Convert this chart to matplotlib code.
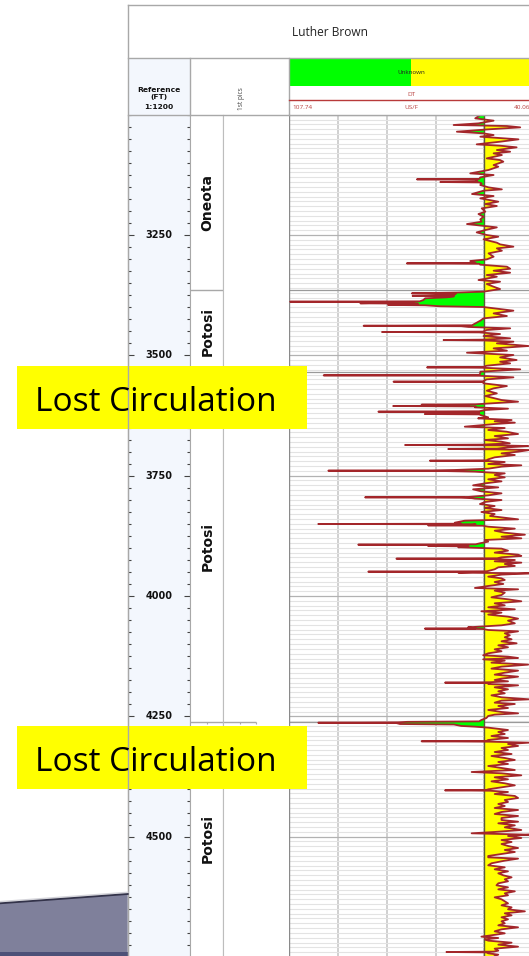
import numpy as np
import matplotlib
matplotlib.use("Agg")
import matplotlib.pyplot as plt
from matplotlib.ticker import MultipleLocator, FixedLocator
from matplotlib.patches import Rectangle, Polygon
from matplotlib.transforms import blended_transform_factory

# ---------------- data ----------------
well_name = "Luther Brown"
curve_name = "DT"
curve_unit = "US/F"
fill_label = "Unknown"
dt_left, dt_right = 107.74, 40.06
dt_cutoff = 53.6
depth_top, depth_bottom = 3000, 4748
depth_labels = [3250, 3500, 3750, 4000, 4250, 4500]
fm_names = ["Oneota", "Potosi", "Potosi", "Potosi"]
fm_tops = [3000, 3365, 3535, 4261]
annot_text = ["Lost Circulation", "Lost Circulation"]

# DT log readings (depth ft, DT us/ft), by interval
log_3000_3590 = [
    (3000.7, 54.7), (3007.6, 56.1), (3012.4, 51.0), (3018.0, 55.2), (3021.4, 62.1),
    (3023.5, 47.3), (3026.3, 43.6), (3030.4, 52.4), (3035.3, 61.2), (3038.8, 53.8),
    (3042.2, 51.0), (3045.7, 54.7), (3051.2, 44.1), (3056.1, 49.2), (3061.6, 55.7),
    (3064.4, 49.2), (3067.8, 44.6), (3073.4, 50.1), (3076.9, 46.4), (3080.3, 51.0),
    (3083.8, 48.7), (3090.7, 52.9), (3094.2, 49.2), (3097.6, 48.3), (3104.6, 51.0),
    (3108.0, 49.7), (3114.9, 52.4), (3121.9, 57.5), (3125.3, 51.0), (3130.2, 54.7),
    (3133.4, 55.0), (3134.3, 72.3), (3135.2, 55.5), (3137.1, 55.7), (3139.1, 55.5),
    (3139.9, 65.8), (3140.7, 55.0), (3142.7, 54.3), (3146.1, 54.7), (3151.0, 52.4),
    (3155.1, 48.7), (3157.9, 53.8), (3164.8, 57.0), (3169.0, 51.0), (3173.8, 54.7),
    (3180.7, 49.7), (3185.6, 53.3), (3189.7, 50.1), (3194.6, 54.3), (3201.5, 53.3),
    (3206.4, 55.2), (3211.9, 53.8), (3217.5, 54.7), (3222.3, 54.3), (3227.2, 58.4),
    (3230.6, 54.3), (3234.1, 50.1), (3239.6, 53.3), (3244.5, 55.7), (3250.0, 52.9),
    (3253.5, 49.7), (3259.0, 53.8), (3265.9, 50.1), (3269.4, 49.2), (3274.2, 45.5),
    (3277.7, 50.1), (3282.6, 48.7), (3288.1, 52.4), (3295.0, 51.0), (3300.6, 52.9),
    (3304.0, 57.5), (3308.0, 56.0), (3308.9, 75.1), (3309.8, 55.0), (3311.6, 54.7),
    (3315.8, 47.3), (3320.0, 46.4), (3324.1, 51.0), (3328.3, 46.4), (3333.1, 52.9),
    (3336.6, 50.1), (3343.5, 55.2), (3347.0, 49.2), (3351.8, 52.9), (3357.4, 51.0),
    (3362.2, 49.2), (3367.7, 53.8), (3369.5, 61.0), (3371.2, 73.7), (3372.0, 61.5),
    (3374.5, 62.0), (3376.5, 73.5), (3377.3, 62.0), (3379.5, 64.0), (3381.5, 70.0),
    (3385.0, 70.5), (3387.8, 71.5), (3388.5, 107.5), (3389.2, 73.0), (3391.9, 88.0),
    (3392.6, 72.0), (3395.3, 80.3), (3396.0, 70.0), (3398.0, 66.0), (3399.6, 53.8),
    (3404.5, 48.3), (3407.2, 45.5), (3412.8, 51.0), (3418.3, 47.3), (3423.1, 53.8),
    (3428.0, 54.7), (3432.2, 55.7), (3437.5, 57.0), (3438.5, 87.1), (3439.5, 60.0),
    (3441.0, 58.0), (3443.9, 46.4), (3447.4, 52.9), (3450.7, 54.0), (3451.5, 82.0),
    (3452.3, 55.0), (3455.7, 49.2), (3459.9, 53.8), (3464.7, 46.4), (3467.4, 54.0),
    (3468.2, 64.9), (3469.0, 54.0), (3471.6, 45.5), (3475.1, 50.1), (3480.6, 41.3),
    (3485.5, 51.0), (3490.3, 47.3), (3494.5, 58.4), (3499.3, 45.5), (3504.2, 49.2),
    (3509.7, 44.6), (3513.2, 49.2), (3516.7, 46.4), (3521.5, 52.9), (3524.2, 54.0),
    (3525.0, 69.5), (3525.8, 54.0), (3529.1, 43.6), (3534.0, 54.7), (3537.4, 54.7),
    (3540.8, 55.0), (3541.6, 98.2), (3542.4, 55.0), (3545.7, 45.5), (3549.9, 52.9),
    (3553.9, 54.0), (3554.7, 78.8), (3555.5, 54.0), (3558.2, 53.8), (3563.8, 47.3),
    (3568.6, 51.0), (3573.4, 52.9), (3579.0, 50.1), (3584.5, 53.3),
]
log_3590_3883 = [
    (3592.8, 48.8), (3596.3, 44.2), (3599.7, 51.6), (3601.7, 56.0), (3602.5, 71.0),
    (3603.4, 58.0), (3604.5, 58.0), (3605.3, 78.9), (3606.1, 56.0), (3608.0, 56.2),
    (3610.8, 47.0), (3613.6, 53.4), (3616.2, 55.0), (3617.0, 83.0), (3617.8, 55.0),
    (3619.1, 56.2), (3621.1, 55.0), (3621.9, 70.1), (3622.7, 55.0), (3624.7, 54.4),
    (3628.8, 52.5), (3630.9, 55.3), (3634.4, 46.0), (3637.1, 50.7), (3639.9, 45.1),
    (3642.7, 50.7), (3648.2, 59.0), (3651.0, 47.9), (3655.1, 52.5), (3658.6, 47.4),
    (3663.4, 44.2), (3667.6, 50.7), (3672.5, 47.0), (3675.9, 53.4), (3679.4, 48.8),
    (3682.8, 46.5), (3685.5, 54.0), (3686.3, 75.6), (3687.0, 50.0), (3688.4, 41.4),
    (3691.1, 47.0), (3693.8, 50.0), (3694.6, 63.6), (3695.4, 50.0), (3696.7, 41.1),
    (3700.2, 44.2), (3703.6, 48.8), (3707.1, 45.1), (3711.9, 50.7), (3716.1, 52.5),
    (3718.1, 53.0), (3718.9, 68.7), (3719.7, 52.0), (3721.6, 47.9), (3725.8, 52.5),
    (3728.5, 43.3), (3731.3, 48.8), (3735.5, 52.5), (3738.2, 61.8), (3739.0, 68.0),
    (3739.6, 96.9), (3740.2, 66.0), (3741.7, 56.2), (3745.2, 47.9), (3748.6, 50.7),
    (3753.5, 47.9), (3757.6, 52.5), (3761.8, 48.8), (3766.0, 53.4), (3770.1, 56.7),
    (3774.3, 49.7), (3778.4, 56.7), (3782.6, 54.4), (3786.7, 48.8), (3790.9, 52.5),
    (3794.2, 58.0), (3795.0, 86.7), (3795.8, 60.0), (3796.8, 57.0), (3797.8, 56.2),
    (3800.6, 48.8), (3804.7, 53.4), (3808.9, 54.8), (3813.0, 50.7), (3817.2, 53.4),
    (3821.4, 48.8), (3825.5, 54.4), (3829.7, 50.7), (3833.8, 52.0), (3836.6, 48.8),
    (3840.7, 44.2), (3843.5, 59.0), (3847.7, 61.8), (3849.8, 60.0), (3850.4, 99.7),
    (3851.0, 56.0), (3852.5, 57.0), (3853.2, 69.2), (3854.0, 54.0), (3856.0, 52.5),
    (3860.1, 45.1), (3864.3, 50.7), (3868.5, 47.9), (3872.6, 42.3), (3876.8, 48.8),
    (3880.2, 43.3),
]
log_3883_4174 = [
    (3883.6, 53.4), (3887.1, 52.5), (3890.5, 54.8), (3892.6, 56.0), (3893.3, 88.6),
    (3894.0, 62.0), (3895.3, 58.0), (3896.1, 69.2), (3896.9, 58.0), (3898.8, 60.8),
    (3901.6, 48.8), (3905.8, 47.0), (3909.9, 50.7), (3914.1, 44.2), (3916.8, 43.3),
    (3919.6, 48.8), (3921.6, 50.0), (3922.4, 78.0), (3923.2, 50.0), (3925.2, 45.1),
    (3927.9, 50.7), (3930.7, 43.3), (3933.5, 47.9), (3937.6, 45.1), (3940.4, 49.7),
    (3944.5, 50.7), (3948.0, 52.5), (3948.7, 53.0), (3949.4, 85.8), (3950.1, 56.0),
    (3951.5, 60.8), (3952.9, 41.1), (3955.6, 48.8), (3959.8, 52.5), (3963.3, 48.8),
    (3966.7, 47.9), (3970.9, 50.7), (3975.0, 48.3), (3979.2, 52.5), (3983.3, 56.2),
    (3986.1, 44.2), (3988.9, 50.7), (3993.0, 47.9), (3997.9, 48.8), (4002.7, 51.6),
    (4006.9, 47.0), (4011.0, 43.3), (4015.2, 50.7), (4019.4, 47.9), (4023.5, 52.5),
    (4027.7, 45.1), (4031.8, 54.4), (4034.6, 48.8), (4038.7, 52.5), (4042.9, 47.0),
    (4047.1, 44.2), (4051.2, 47.0), (4056.8, 45.1), (4060.9, 48.8), (4065.1, 58.1),
    (4067.0, 56.0), (4067.8, 70.1), (4068.6, 54.0), (4070.6, 52.5), (4073.4, 44.2),
    (4077.5, 47.9), (4081.7, 46.5), (4085.8, 47.9), (4090.0, 46.0), (4094.2, 48.8),
    (4098.3, 44.6), (4102.5, 49.7), (4106.6, 47.0), (4110.8, 50.7), (4114.9, 48.8),
    (4119.1, 52.5), (4123.2, 53.9), (4126.0, 47.0), (4128.8, 44.2), (4131.6, 53.9),
    (4134.3, 47.9), (4138.5, 51.6), (4142.6, 41.4), (4146.8, 48.8), (4150.9, 51.6),
    (4155.1, 44.2), (4159.3, 47.9), (4163.4, 50.7), (4167.6, 44.2), (4171.7, 48.8),
]
log_4174_4465 = [
    (4174.5, 50.7), (4177.3, 47.0), (4179.2, 52.0), (4180.0, 64.5), (4180.8, 52.0),
    (4182.8, 52.5), (4185.6, 44.2), (4189.7, 50.7), (4193.9, 47.0), (4198.0, 49.7),
    (4202.2, 47.9), (4206.4, 51.6), (4210.5, 48.8), (4214.7, 41.1), (4217.4, 48.8),
    (4221.6, 50.7), (4224.4, 45.1), (4228.5, 49.7), (4232.7, 47.0), (4236.8, 52.5),
    (4241.0, 48.8), (4243.8, 44.2), (4246.5, 50.7), (4249.3, 52.5), (4253.5, 53.0),
    (4257.6, 54.4), (4260.5, 55.0), (4261.5, 75.0), (4262.5, 77.5), (4263.3, 99.7),
    (4264.0, 78.0), (4266.0, 77.0), (4267.0, 62.0), (4270.0, 60.0), (4271.5, 56.2),
    (4273.5, 52.5), (4278.4, 47.0), (4282.5, 49.7), (4286.7, 47.9), (4290.9, 51.6),
    (4295.0, 47.0), (4299.2, 52.5), (4301.1, 53.0), (4301.9, 71.0), (4302.7, 52.0),
    (4304.7, 41.1), (4307.5, 47.0), (4311.6, 44.2), (4315.8, 48.8), (4319.9, 47.0),
    (4324.1, 50.7), (4328.3, 46.0), (4332.4, 51.6), (4336.6, 47.9), (4340.7, 45.1),
    (4344.9, 49.7), (4349.0, 47.0), (4353.2, 52.5), (4357.3, 48.8), (4361.5, 45.1),
    (4365.7, 57.1), (4368.4, 48.8), (4372.6, 43.3), (4376.7, 50.7), (4380.9, 47.0),
    (4385.1, 51.6), (4389.2, 47.9), (4393.4, 45.1), (4397.5, 48.8), (4401.7, 52.5),
    (4403.0, 53.0), (4403.8, 64.5), (4404.6, 52.0), (4407.2, 47.0), (4411.4, 50.7),
    (4415.5, 45.1), (4419.7, 44.2), (4423.8, 47.9), (4428.0, 47.0), (4432.1, 49.7),
    (4436.3, 47.9), (4440.5, 50.7), (4444.6, 44.2), (4448.8, 48.8), (4452.9, 50.7),
    (4457.1, 44.2), (4461.3, 48.8),
]
log_4465_4748 = [
    (4465.4, 48.8), (4468.9, 44.2), (4472.3, 49.7), (4476.5, 45.1), (4480.6, 47.9),
    (4486.2, 43.3), (4490.3, 50.7), (4493.1, 57.1), (4495.9, 41.1), (4498.6, 47.0),
    (4502.8, 43.3), (4507.0, 48.8), (4511.1, 46.0), (4515.3, 48.8), (4519.4, 47.0),
    (4523.6, 44.2), (4527.7, 47.9), (4531.9, 45.1), (4536.0, 48.8), (4540.2, 52.5),
    (4543.0, 52.5), (4545.7, 44.2), (4549.9, 47.9), (4555.4, 51.6), (4559.6, 52.5),
    (4563.7, 47.9), (4567.9, 50.7), (4572.1, 47.0), (4576.2, 49.7), (4580.4, 48.3),
    (4584.5, 46.0), (4588.7, 47.9), (4592.8, 47.0), (4597.0, 49.7), (4601.1, 50.2),
    (4605.3, 47.0), (4609.5, 49.7), (4613.6, 45.1), (4617.8, 47.9), (4621.9, 47.0),
    (4626.1, 50.7), (4630.2, 48.8), (4634.4, 47.9), (4638.6, 47.0), (4642.7, 48.8),
    (4646.9, 46.0), (4651.0, 47.0), (4655.2, 42.3), (4659.3, 47.9), (4663.5, 46.0),
    (4667.6, 48.8), (4671.8, 47.0), (4676.0, 48.8), (4680.1, 47.9), (4684.3, 49.7),
    (4688.4, 44.2), (4692.6, 48.8), (4696.7, 50.7), (4700.9, 47.9), (4705.0, 51.6),
    (4707.8, 54.4), (4710.6, 49.7), (4713.4, 53.4), (4716.1, 52.5), (4720.3, 46.0),
    (4724.4, 49.7), (4728.6, 44.2), (4732.7, 50.7), (4736.9, 49.7), (4738.9, 51.0),
    (4739.7, 64.1), (4740.5, 53.0), (4742.4, 52.5), (4745.2, 49.7), (4748.0, 50.7),
]

# ---------------- layout (pixels) ----------------
W, H = 529, 956
X_REF0, X_REF1, X_FM1, X_PK1, X_TR1 = 127.7, 190.3, 223.3, 289.3, 533.0
Y_T0, Y_T1, Y_H1 = 5.0, 58.3, 114.7
GRAY = '#a8a8a8'
REF_BG = '#f3f7fd'
CURVE = '#a3262a'
RED_TXT = '#b8413f'

fig = plt.figure(figsize=(W / 100, H / 100), dpi=100)
fig.patch.set_facecolor('white')


def px_axes(x0, x1, y0, y1, **kw):
    return fig.add_axes([x0 / W, 1 - y1 / H, (x1 - x0) / W, (y1 - y0) / H], **kw)


log = log_3000_3590 + log_3590_3883 + log_3883_4174 + log_4174_4465 + log_4465_4748
depth = np.array([p[0] for p in log])
dt = np.array([p[1] for p in log])

# ---- curve track ----
ax = px_axes(X_PK1, X_TR1, Y_H1, H)
ax.set_xlim(dt_left, dt_right)
ax.set_ylim(depth_bottom, depth_top)
ax.set_axisbelow(True)
ax.set_xticks(np.linspace(dt_left, dt_right, 6)[1:5])
ax.yaxis.set_major_locator(MultipleLocator(250))
ax.yaxis.set_minor_locator(MultipleLocator(10))
ax.tick_params(which='both', length=0, labelbottom=False, labelleft=False)
ax.grid(axis='x', color='#cdcdcd', lw=1.3)
ax.grid(axis='y', which='minor', color='#e3e3e3', lw=0.8)
ax.grid(axis='y', which='major', color='#b2b2b2', lw=0.9)
for s in ['top', 'right', 'bottom']:
    ax.spines[s].set_visible(False)
ax.spines['left'].set_color('#8a8a8a')
ax.spines['left'].set_linewidth(1.0)
for t in fm_tops[1:]:
    ax.axhline(t, color='#9a9a9a', lw=0.9, zorder=1)

ax.fill_betweenx(depth, dt_cutoff, dt, where=dt <= dt_cutoff, interpolate=True,
                 color='#ffff00', lw=0, zorder=2)
ax.fill_betweenx(depth, dt_cutoff, dt, where=dt >= dt_cutoff, interpolate=True,
                 color='#00ff00', lw=0, zorder=2)
ax.axvline(dt_cutoff, color='#5c5c3c', lw=1.0, zorder=3)
ax.plot(dt, depth, color=CURVE, lw=1.3, zorder=4)

# ---- reference (depth) column ----
axr = px_axes(X_REF0, X_REF1, Y_H1, H, facecolor=REF_BG)
axr.set_xlim(0, 1)
axr.set_ylim(depth_bottom, depth_top)
axr.set_xticks([])
axr.yaxis.set_major_locator(FixedLocator(depth_labels))
axr.yaxis.set_minor_locator(MultipleLocator(25))
axr.tick_params(axis='y', which='both', direction='in', left=True, right=True,
                labelleft=False, color='#444444', width=0.8)
axr.tick_params(axis='y', which='major', length=4.6)
axr.tick_params(axis='y', which='minor', length=2.0)
for s in axr.spines.values():
    s.set_color(GRAY)
axr.spines['top'].set_visible(False)
axr.spines['bottom'].set_visible(False)
trr = blended_transform_factory(axr.transAxes, axr.transData)
for d in depth_labels:
    axr.text(0.5, d, str(d), transform=trr, ha='center', va='center',
             fontsize=7, fontweight='bold', color='#111111')

# ---- formation column ----
axf = px_axes(X_REF1, X_FM1, Y_H1, H)
axf.set_xlim(0, 1)
axf.set_ylim(depth_bottom, depth_top)
axf.set_xticks([])
axf.set_yticks([])
for s in axf.spines.values():
    s.set_color(GRAY)
axf.spines['top'].set_visible(False)
axf.spines['bottom'].set_visible(False)
for t in fm_tops[1:]:
    axf.axhline(t, color=GRAY, lw=1.0)
bounds = fm_tops + [depth_bottom]
trf = blended_transform_factory(axf.transAxes, axf.transData)
for name, a, b in zip(fm_names, bounds[:-1], bounds[1:]):
    axf.text(0.52, (a + b) / 2, name, transform=trf, rotation=90, ha='center',
             va='center', fontsize=10, fontweight='bold', color='#111111')
axf.vlines(0.5, fm_tops[-1], fm_tops[-1] + 6, color=GRAY, lw=0.8)

# ---- picks column ----
axp = px_axes(X_FM1, X_PK1, Y_H1, H)
axp.set_xlim(0, 1)
axp.set_ylim(depth_bottom, depth_top)
axp.set_xticks([])
axp.set_yticks([])
for s in axp.spines.values():
    s.set_color('#bdbdbd')
axp.spines['top'].set_visible(False)
axp.spines['bottom'].set_visible(False)
axp.spines['right'].set_visible(False)
axp.hlines(fm_tops[-1], 0, 0.5, color=GRAY, lw=1.0)
axp.vlines([0.25, 0.5], fm_tops[-1], fm_tops[-1] + 6, color=GRAY, lw=0.8)

# ---- overlay (header, annotations) ----
ov = fig.add_axes([0, 0, 1, 1])
ov.set_xlim(0, W)
ov.set_ylim(H, 0)
ov.axis('off')
ov.patch.set_visible(False)

ov.add_patch(Rectangle((X_REF0, Y_T1), X_REF1 - X_REF0, Y_H1 - Y_T1, fc=REF_BG, ec='none'))
mid = (X_PK1 + X_TR1) / 2
ov.add_patch(Rectangle((X_PK1, Y_T1 + 0.4), mid - X_PK1, 27.3, fc='#00ff00', ec='none'))
ov.add_patch(Rectangle((mid, Y_T1 + 0.4), X_TR1 - mid, 27.3, fc='#ffff00', ec='none'))
for y in (Y_T0, Y_T1, Y_H1):
    ov.plot([X_REF0, X_TR1], [y, y], color=GRAY, lw=1.0)
ov.plot([X_REF0, X_REF0], [Y_T0, H], color=GRAY, lw=1.0)
for x in (X_REF1, X_PK1):
    ov.plot([x, x], [Y_T1, Y_H1], color=GRAY, lw=1.0)
ov.plot([X_PK1, X_TR1], [100.3, 100.3], color='#b83a3a', lw=1.0)

sans = ['Open Sans', 'DejaVu Sans']
ov.text((X_REF0 + X_TR1) / 2, 32.5, well_name, ha='center', va='center',
        fontsize=8.6, family=sans, color='#222222')
ov.text(mid, 72.7, fill_label, ha='center', va='center', fontsize=4.5,
        family=sans, color='#222222')
ov.text(mid, 94.3, curve_name, ha='center', va='center', fontsize=4.6,
        family=sans, color=RED_TXT)
ov.text(X_PK1 + 3.3, 107.6, f"{dt_left:.2f}", ha='left', va='center',
        fontsize=4.6, family=sans, color=RED_TXT)
ov.text(mid, 107.6, curve_unit, ha='center', va='center', fontsize=4.6,
        family=sans, color=RED_TXT)
ov.text(X_TR1 - 3.0, 107.6, f"{dt_right:.2f}", ha='right', va='center',
        fontsize=4.6, family=sans, color=RED_TXT)
ov.text(241.7, 98.5, "1st pics", rotation=90, ha='center', va='center',
        fontsize=4.7, family=sans, color='#444444')
xr = (X_REF0 + X_REF1) / 2
ov.text(xr, 90.0, "Reference", ha='center', va='center', fontsize=5.4,
        fontweight='bold', color='#111111')
ov.text(xr, 96.6, "(FT)", ha='center', va='center', fontsize=5.4,
        fontweight='bold', color='#111111')
ov.text(xr, 107.4, "1:1200", ha='center', va='center', fontsize=5.4,
        fontweight='bold', color='#111111')

# bottom-left graphic remnant
ov.add_patch(Polygon([(0, 903.3), (X_REF0, 894.0), (X_REF0, H), (0, H)],
                     closed=True, fc='#7f809b', ec='none'))
ov.plot([0, X_REF0], [901.6, 892.3], color='#d4d4da', lw=1.0)
ov.plot([0, X_REF0], [903.3, 894.0], color='#33334a', lw=1.3)
ov.add_patch(Rectangle((0, 951.5), X_REF0, H - 951.5, fc='#4d5178', ec='none'))

# Lost circulation annotations
for (y0, y1, yb), txt in zip([(366.0, 429.3, 411.0), (726.0, 789.3, 771.0)], annot_text):
    ov.add_patch(Rectangle((17, y0), 307 - 17, y1 - y0, fc='#ffff00', ec='none'))
    ov.text(35, yb, txt, ha='left', va='baseline', fontsize=24, family=sans,
            color='#000000')

fig.savefig("out.png", dpi=100)
